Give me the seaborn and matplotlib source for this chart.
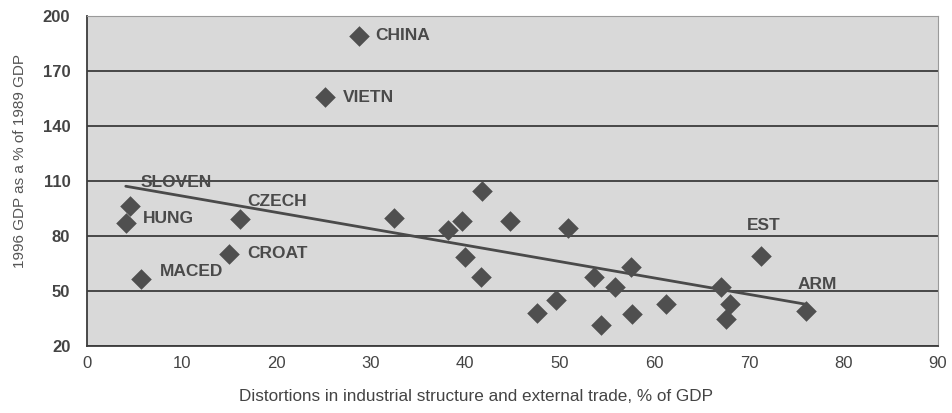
import numpy as np
import pandas as pd
import matplotlib
matplotlib.use("Agg")
import matplotlib.pyplot as plt
import seaborn as sns

# Data
distortion = [28.8, 25.2, 4.5, 4.1, 16.2, 15.0, 5.7, 32.5, 38.2, 39.7, 41.8, 44.7,
              40.0, 41.7, 50.9, 53.6, 55.8, 57.5, 47.6, 49.6, 54.4, 57.6, 61.2,
              67.1, 68.0, 67.6, 71.3, 76.0]
gdp_1996 = [189.1, 155.8, 96.3, 86.9, 89.3, 70.2, 56.5, 89.6, 83.3, 88.2, 104.7, 88.3,
            68.7, 57.4, 84.2, 57.4, 52.0, 63.3, 38.1, 45.0, 31.4, 37.4, 42.9,
            52.3, 42.9, 35.0, 69.1, 38.9]
country = ["CHINA", "VIETN", "SLOVEN", "HUNG", "CZECH", "CROAT", "MACED", "", "", "", "", "",
           "", "", "", "", "", "", "", "", "", "", "",
           "", "", "", "EST", "ARM"]
# label offsets in pixels (dx, dy)
label_off = {"CHINA": (16, 0), "VIETN": (18, 0), "SLOVEN": (11, 24), "HUNG": (17, 5),
             "CZECH": (7, 17), "CROAT": (18, 0), "MACED": (19, 8),
             "EST": (-14, 30), "ARM": (-8, 27)}

df = pd.DataFrame({"x": distortion, "y": gdp_1996, "name": country})

sns.set_style("white")
plt.rcParams["font.family"] = ["Liberation Sans", "DejaVu Sans"]

fig = plt.figure(figsize=(9.52, 4.13), dpi=100)
ax = fig.add_axes([0.0914, 0.1622, 0.8939, 0.7991])
ax.set_facecolor("#d9d9d9")

# linear trend line over all countries
coef = np.polyfit(df["x"], df["y"], 1)
xs = np.array([df["x"].min(), df["x"].max()])
ax.plot(xs, np.polyval(coef, xs), color="#4a4a4a", lw=2, zorder=3)

sns.scatterplot(data=df, x="x", y="y", marker="D", s=110, color="#4f4f4f",
                edgecolor="#4f4f4f", linewidth=0, ax=ax, zorder=4)

for _, r in df[df["name"] != ""].iterrows():
    dx, dy = label_off[r["name"]]
    ax.annotate(r["name"], (r["x"], r["y"]), xytext=(dx, dy), textcoords="offset pixels",
                ha="left", va="center", fontsize=12.5, fontweight="bold", color="#4a4a4a")

ax.set_xlim(0, 90)
ax.set_ylim(20, 200)
ax.set_xticks(range(0, 91, 10))
ax.set_yticks(range(20, 201, 30))
ax.yaxis.grid(True, color="#3c3c3c", lw=1.3)
ax.set_axisbelow(True)

for s in ["top", "right"]:
    ax.spines[s].set_color("#9a9a9a")
    ax.spines[s].set_linewidth(0.8)
for s in ["left", "bottom"]:
    ax.spines[s].set_color("#3c3c3c")
    ax.spines[s].set_linewidth(1.3)

ax.tick_params(axis="both", direction="out", length=4, width=1, color="#3c3c3c")
ax.tick_params(axis="y", pad=8)
for t in ax.get_yticklabels():
    t.set_fontsize(12)
    t.set_fontweight("bold")
    t.set_color("#444444")
for t in ax.get_xticklabels():
    t.set_fontsize(12)
    t.set_color("#444444")

ax.set_ylabel("1996 GDP as a % of 1989 GDP", fontsize=11, color="#555555")
ax.set_xlabel("Distortions in industrial structure and external trade, % of GDP",
              fontsize=12.3, color="#444444")
ax.yaxis.set_label_coords(-0.071, 0.56)
ax.xaxis.set_label_coords(0.457, -0.13)

fig.savefig("out.png", dpi=100)
